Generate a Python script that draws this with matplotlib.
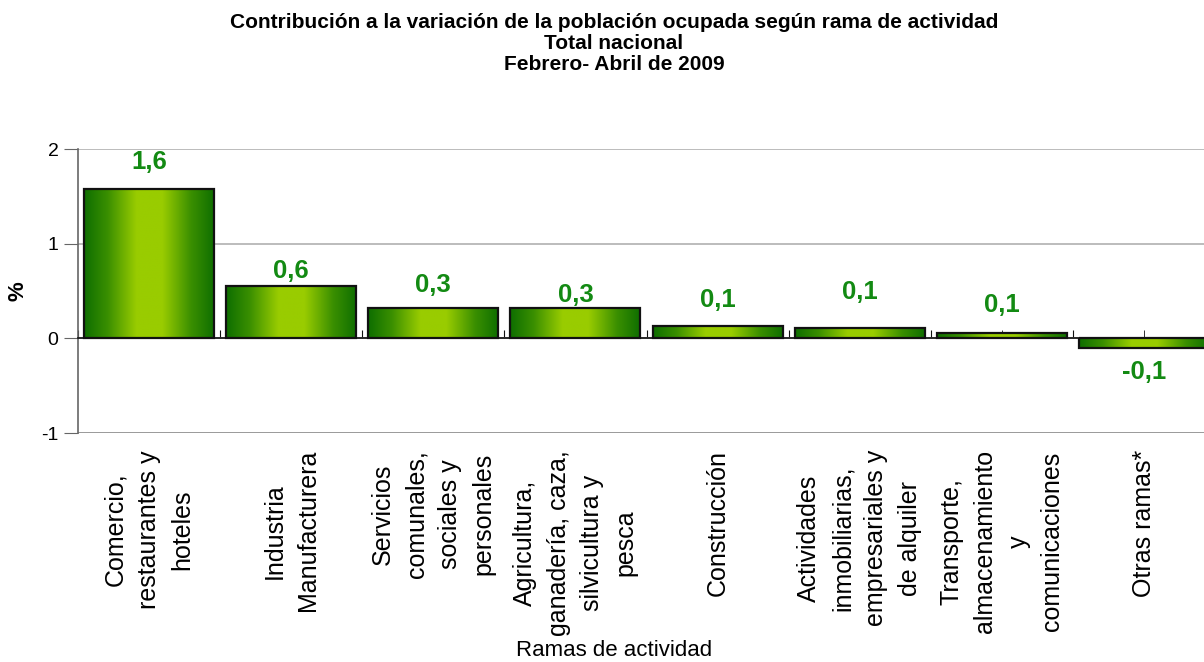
import matplotlib.pyplot as plt
import numpy as np
from matplotlib.colors import LinearSegmentedColormap

# ==== DATOS ====
RAMAS = [
    'Comercio,\nrestaurantes y\nhoteles',
    'Industria\nManufacturera',
    'Servicios\ncomunales,\nsociales y\npersonales',
    'Agricultura,\nganadería, caza,\nsilvicultura y\npesca',
    'Construcción',
    'Actividades\ninmobiliarias,\nempresariales y\nde alquiler',
    'Transporte,\nalmacenamiento\ny\ncomunicaciones',
    'Otras ramas*',
]
VALORES = [1.58, 0.55, 0.32, 0.32, 0.13, 0.105, 0.06, -0.105]
ETIQUETAS = ['1,6', '0,6', '0,3', '0,3', '0,1', '0,1', '0,1', '-0,1']

# desplazamiento vertical de las etiquetas (puntos)
ETIQ_DY = [19, 11, 16.5, 9.5, 19, 26, 20, -17]

VERDE_TXT = '#138a13'
GRADIENTE = LinearSegmentedColormap.from_list(
    'barra', [(0.0, '#0e6e00'), (0.18, '#3a8f00'), (0.4, '#99cc00'),
              (0.6, '#99cc00'), (0.82, '#3a8f00'), (1.0, '#0e6e00')])

plt.rcParams['font.family'] = ['Liberation Sans', 'DejaVu Sans']

fig = plt.figure(figsize=(12.04, 6.62), dpi=100)
ax = fig.add_axes([78 / 1204, 1 - 433 / 662, 1137 / 1204, 284 / 662])

x = np.arange(len(RAMAS))
ancho = 0.915
barras = ax.bar(x, VALORES, width=ancho, color='none', edgecolor='#111111',
                linewidth=1.6, zorder=3)

grad = np.linspace(0, 1, 256).reshape(1, -1)
for b in barras:
    x0, y0 = b.get_x(), b.get_y()
    w, h = b.get_width(), b.get_height()
    ax.imshow(grad, cmap=GRADIENTE, aspect='auto', zorder=2,
              extent=[x0, x0 + w, y0, y0 + h], interpolation='bilinear')

for xi, v, t, dy in zip(x, VALORES, ETIQUETAS, ETIQ_DY):
    ax.annotate(t, (xi, v), xytext=(0, dy), textcoords='offset points',
                ha='center', va='center', fontsize=18.5, fontweight='bold',
                color=VERDE_TXT)

ax.set_xlim(-0.5, len(RAMAS) - 0.5)
ax.set_ylim(-1, 2)
ax.set_yticks([-1, 0, 1, 2])
ax.set_yticklabels(['-1', '0', '1', '2'], fontsize=14)
ax.yaxis.grid(True, color='#b0b0b0', linewidth=1.2)
ax.set_axisbelow(True)

for s in ['top', 'right']:
    ax.spines[s].set_visible(False)
ax.spines['left'].set_color('#666666')
ax.spines['left'].set_linewidth(1.2)
ax.spines['bottom'].set_position(('data', 0))
ax.spines['bottom'].set_color('#111111')
ax.spines['bottom'].set_linewidth(1.2)
ax.spines['bottom'].set_zorder(4)
ax.tick_params(axis='y', direction='out', length=10, color='#666666', pad=4)

# ticks del eje de categorias sobre la linea cero
ax.set_xticks(np.arange(len(RAMAS) + 1) - 0.5)
ax.set_xticks(x, minor=True)
ax.tick_params(axis='x', which='both', direction='in', length=6,
               color='#111111', labelbottom=False)

# linea inferior del area (gris)
ax.axhline(-1, color='#999999', linewidth=2, zorder=1)

for xi, nombre in zip(x, RAMAS):
    ax.text(xi, -1.18, nombre, rotation=90, ha='center', va='top',
            multialignment='center', fontsize=18, linespacing=1.5,
            transform=ax.transData)

ax.set_ylabel('%', fontsize=16, fontweight='bold')
ax.yaxis.set_label_coords(-49 / 1137, 0.5)
fig.text(0.51, 1 - 656 / 662, 'Ramas de actividad', ha='center',
         va='baseline', fontsize=16)

fig.text(0.51, 1 - 13 / 662,
         'Contribución a la variación de la población ocupada según rama de actividad\n'
         'Total nacional\nFebrero- Abril de 2009',
         ha='center', va='top', fontsize=15, fontweight='bold', linespacing=1.13)

fig.savefig('out.png', dpi=100)
